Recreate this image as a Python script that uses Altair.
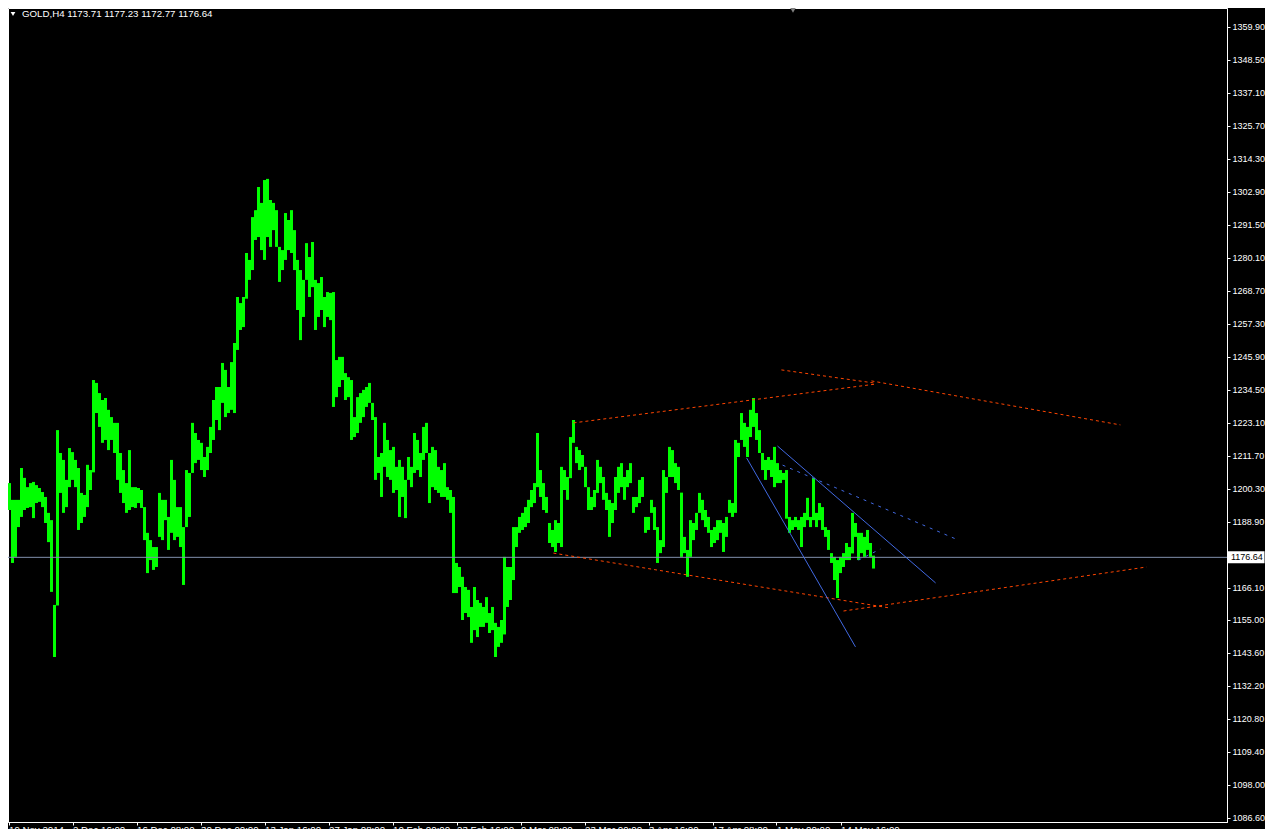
import json
import pandas as pd
import altair as alt

# ---------------- data ----------------
symbol_text = "GOLD,H4  1173.71 1177.23 1172.77 1176.64"
last_price = 1176.64
last_price_label = "1176.64"

# bar highs / lows (one entry per group of H4 bars, left to right)
highs = [
    1202.3, 1196.5, 1196.5, 1196.5, 1207.5, 1204.1, 1200.9, 1202.3, 1202.7, 1201.6,
    1200.6, 1199.2, 1197.5, 1192.0, 1189.5, 1160.2, 1220.6, 1212.7, 1210.3, 1203.4,
    1214.4, 1213.0, 1210.3, 1207.5, 1198.9, 1198.2, 1208.6, 1206.8, 1237.9, 1236.9,
    1233.4, 1231.0, 1231.7, 1227.6, 1225.1, 1223.1, 1223.1, 1212.7, 1206.8, 1202.3,
    1213.7, 1200.9, 1200.9, 1200.6, 1199.9, 1194.0, 1185.1, 1182.6, 1180.2, 1180.2,
    1198.9, 1196.5, 1196.5, 1190.6, 1210.3, 1203.4, 1194.0, 1194.0, 1187.1, 1206.8,
    1205.8, 1223.1, 1219.6, 1217.2, 1216.2, 1211.3, 1214.8, 1221.7, 1231.0, 1235.5,
    1235.5, 1243.8, 1241.4, 1235.5, 1244.1, 1250.7, 1266.6, 1264.5, 1266.6, 1281.8,
    1279.4, 1294.2, 1296.6, 1304.6, 1299.1, 1307.0, 1307.4, 1300.1, 1299.1, 1296.6,
    1283.9, 1282.8, 1295.6, 1293.2, 1296.6, 1289.7, 1279.4, 1275.9, 1272.5, 1285.2,
    1280.4, 1285.6, 1272.5, 1271.4, 1273.5, 1266.6, 1268.3, 1268.0, 1268.3, 1244.8,
    1245.9, 1245.9, 1240.3, 1238.9, 1237.9, 1225.1, 1232.0, 1233.4, 1234.5, 1235.5,
    1236.9, 1230.0, 1225.1, 1211.3, 1212.7, 1223.1, 1217.2, 1213.7, 1214.8, 1207.9,
    1210.3, 1207.9, 1203.4, 1211.3, 1207.9, 1219.6, 1217.2, 1212.7, 1221.7, 1223.1,
    1212.7, 1214.8, 1213.7, 1207.9, 1206.8, 1209.2, 1200.9, 1199.9, 1197.5, 1174.7,
    1173.3, 1169.9, 1166.4, 1165.4, 1159.5, 1166.4, 1161.9, 1160.9, 1159.5, 1162.9,
    1157.4, 1159.5, 1154.0, 1152.6, 1155.0, 1176.8, 1173.3, 1173.3, 1187.1, 1187.1,
    1190.6, 1192.0, 1194.0, 1196.5, 1199.9, 1202.3, 1219.6, 1206.8, 1202.3, 1197.5,
    1188.5, 1186.1, 1189.5, 1188.5, 1207.9, 1206.8, 1204.4, 1218.2, 1224.1, 1214.8,
    1213.7, 1212.0, 1207.9, 1200.9, 1197.5, 1199.9, 1210.3, 1207.9, 1204.4, 1198.9,
    1196.5, 1195.4, 1204.4, 1207.9, 1209.2, 1204.4, 1206.8, 1209.2, 1197.5, 1197.5,
    1203.4, 1204.4, 1190.6, 1190.6, 1196.5, 1194.0, 1187.1, 1182.6, 1206.8, 1204.4,
    1214.8, 1213.7, 1209.2, 1207.9, 1199.0, 1183.7, 1179.2, 1189.5, 1188.5, 1192.0,
    1198.9, 1196.5, 1193.0, 1190.6, 1186.1, 1187.1, 1189.5, 1189.5, 1188.5, 1190.6,
    1196.5, 1195.4, 1217.2, 1216.2, 1226.5, 1223.1, 1221.7, 1227.6, 1231.7, 1226.5,
    1220.6, 1212.7, 1210.3, 1211.3, 1210.3, 1214.8, 1209.2, 1206.8, 1205.8, 1206.8,
    1190.6, 1189.5, 1190.6, 1189.5, 1190.6, 1192.0, 1197.2, 1190.6, 1204.1, 1192.0,
    1195.4, 1194.0, 1187.1, 1186.1, 1178.1, 1176.8, 1175.7, 1176.8, 1178.1, 1181.6,
    1180.2, 1192.0, 1188.5, 1185.1, 1185.1, 1183.7, 1186.1, 1181.6, 1177.23,
]
lows = [
    1193.0, 1174.7, 1176.8, 1187.1, 1190.6, 1193.0, 1193.7, 1194.0, 1190.2, 1195.4,
    1195.8, 1194.0, 1188.5, 1181.9, 1164.7, 1142.2, 1160.0, 1198.9, 1192.0, 1194.0,
    1200.9, 1203.4, 1200.9, 1186.1, 1188.5, 1190.6, 1194.0, 1199.9, 1206.0, 1226.5,
    1221.7, 1216.2, 1217.2, 1213.7, 1217.2, 1212.7, 1203.4, 1198.9, 1195.4, 1192.0,
    1193.0, 1194.0, 1193.7, 1195.4, 1193.7, 1182.6, 1171.2, 1175.7, 1172.3, 1173.3,
    1183.7, 1182.6, 1189.5, 1179.2, 1185.1, 1182.6, 1183.7, 1180.2, 1167.1, 1187.1,
    1190.6, 1205.8, 1209.2, 1210.3, 1206.8, 1204.4, 1206.8, 1212.7, 1217.2, 1224.1,
    1220.6, 1230.0, 1225.1, 1226.5, 1227.6, 1226.5, 1248.3, 1255.2, 1256.2, 1266.0,
    1272.5, 1275.9, 1286.3, 1287.3, 1282.8, 1279.4, 1287.3, 1283.9, 1289.7, 1283.9,
    1271.8, 1275.9, 1279.4, 1282.8, 1281.8, 1275.9, 1262.1, 1251.7, 1259.7, 1272.5,
    1266.6, 1270.0, 1255.2, 1259.7, 1262.1, 1256.2, 1259.7, 1258.6, 1228.6, 1232.0,
    1235.5, 1237.9, 1231.0, 1232.0, 1217.2, 1218.2, 1219.6, 1223.1, 1225.1, 1228.6,
    1230.0, 1224.1, 1203.4, 1205.8, 1197.5, 1207.9, 1204.4, 1203.4, 1198.9, 1199.9,
    1190.6, 1197.5, 1190.2, 1203.4, 1200.9, 1205.8, 1206.8, 1204.4, 1210.3, 1212.7,
    1195.4, 1200.9, 1199.9, 1198.9, 1197.5, 1197.5, 1196.5, 1192.0, 1164.3, 1164.3,
    1166.4, 1155.0, 1157.4, 1156.0, 1147.1, 1151.5, 1149.1, 1152.6, 1152.6, 1154.0,
    1150.5, 1151.5, 1142.2, 1145.7, 1147.1, 1150.0, 1159.5, 1161.9, 1168.8, 1180.2,
    1185.1, 1186.1, 1187.1, 1188.5, 1194.0, 1195.4, 1200.9, 1197.5, 1193.0, 1192.0,
    1181.6, 1180.2, 1178.5, 1181.6, 1180.2, 1199.9, 1196.5, 1204.0, 1216.2, 1209.2,
    1206.8, 1207.9, 1200.9, 1193.0, 1193.0, 1194.0, 1198.9, 1202.3, 1196.5, 1193.0,
    1183.7, 1188.5, 1193.0, 1198.9, 1200.9, 1196.5, 1200.9, 1202.3, 1192.0, 1194.0,
    1195.4, 1197.5, 1185.1, 1186.1, 1192.0, 1186.1, 1174.7, 1178.1, 1180.2, 1198.9,
    1204.4, 1204.4, 1202.3, 1199.9, 1176.8, 1178.1, 1169.9, 1176.8, 1182.6, 1186.1,
    1192.0, 1189.5, 1187.1, 1185.1, 1180.2, 1181.6, 1182.6, 1185.1, 1178.5, 1183.7,
    1192.0, 1190.6, 1192.0, 1211.3, 1217.2, 1214.8, 1211.3, 1218.2, 1221.7, 1217.2,
    1212.7, 1206.8, 1203.4, 1206.8, 1204.4, 1200.9, 1202.3, 1202.3, 1203.4, 1190.0,
    1185.1, 1186.1, 1187.1, 1186.1, 1180.2, 1187.1, 1189.5, 1187.1, 1189.5, 1187.1,
    1189.5, 1186.1, 1183.7, 1179.2, 1174.7, 1168.8, 1162.6, 1171.2, 1173.3, 1175.7,
    1175.7, 1178.0, 1183.7, 1175.7, 1178.1, 1176.8, 1179.2, 1176.8, 1172.77,
]

# trend lines: (start bar, start price) -> (end bar, end price)
line_names = ["r1", "r2", "r3", "r4", "r5", "b1", "b2", "b3", "b4"]
line_kind = ["red", "red", "red", "red", "red", "blue", "blue", "bluedash", "bluedash"]
line_x1 = [188.0, 257.3, 287.3, 181.3, 278.0, 245.7, 256.0, 257.7, 283.0]
line_p1 = [1223.1, 1241.4, 1237.6, 1178.1, 1158.1, 1211.0, 1215.1, 1208.5, 1175.7]
line_x2 = [288.7, 288.0, 370.3, 293.7, 379.0, 282.0, 308.7, 316.3, 290.3]
line_p2 = [1236.5, 1236.9, 1222.4, 1159.1, 1173.3, 1145.7, 1167.8, 1182.6, 1179.5]

# price axis ticks
price_ticks = [1359.90, 1348.50, 1337.10, 1325.70, 1314.30, 1302.90, 1291.50,
               1280.10, 1268.70, 1257.30, 1245.90, 1234.50, 1223.10, 1211.70,
               1200.30, 1188.90, 1166.10, 1155.00, 1143.60, 1132.20, 1120.80,
               1109.40, 1098.00, 1086.60]

# time axis labels (one every 64 H4 bars)
time_labels = ["19 Nov 2014", "2 Dec 16:00", "16 Dec 08:00", "30 Dec 00:00",
               "13 Jan 16:00", "27 Jan 08:00", "10 Feb 00:00", "23 Feb 16:00",
               "9 Mar 08:00", "23 Mar 00:00", "3 Apr 16:00", "17 Apr 08:00",
               "1 May 00:00", "14 May 16:00"]

# ---------------- chart ----------------
W, H = 1219, 814
RIGHT = 38
X_DOM = [-0.5, (W - 1.5) / 3]
Y_DOM = [1085.2, 1366.44]
FONT = "Liberation Sans"
FS = 9
FS_HDR = 9.7

bars = pd.DataFrame({"bar": list(range(len(highs))), "high": highs, "low": lows})
lines = pd.DataFrame({"name": line_names, "kind": line_kind,
                      "x1": line_x1, "p1": line_p1, "x2": line_x2, "p2": line_p2})

xs = alt.Scale(domain=X_DOM, nice=False, zero=False)
ys = alt.Scale(domain=Y_DOM, nice=False, zero=False)

tick_vals = [(64 * k - 1) / 3 for k in range(len(time_labels))]
label_expr = json.dumps(time_labels) + "[round((datum.value*3+1)/64)]"

xaxis = alt.Axis(values=tick_vals, labelExpr=label_expr, title=None,
                 grid=False, tickSize=3, labelAlign="left",
                 labelBaseline="top", labelPadding=-1, labelFlush=False,
                 labelOverlap=False, labelFontSize=FS_HDR)
yaxis = alt.Axis(orient="right", values=price_ticks, format=".2f",
                 title=None, grid=False, tickSize=3, labelPadding=2,
                 labelOverlap=False, labelFlush=False)

bar_layer = alt.Chart(bars).mark_rule(color="#00FF00", strokeWidth=3).encode(
    x=alt.X("bar:Q", scale=xs, axis=xaxis),
    y=alt.Y("low:Q", scale=ys, axis=yaxis),
    y2="high:Q",
)

price_line = alt.Chart(pd.DataFrame({"p": [last_price]})).mark_rule(
    color="#8090AC", strokeWidth=1).encode(y=alt.Y("p:Q", scale=ys, axis=yaxis))


def trend(kind, dash):
    kw = dict(color="#FF4500" if kind == "red" else "#4169E1", strokeWidth=1)
    if dash:
        kw["strokeDash"] = dash
    return alt.Chart(lines).transform_filter(alt.datum.kind == kind).mark_rule(**kw).encode(
        x=alt.X("x1:Q", scale=xs, axis=xaxis), y=alt.Y("p1:Q", scale=ys, axis=yaxis),
        x2="x2:Q", y2="p2:Q", detail="name:N")


red_layer = trend("red", [3, 3])
blue_layer = trend("blue", None)
bluedash_layer = trend("bluedash", [3, 5])

lp = pd.DataFrame({"p": [last_price], "t": [last_price_label]})
price_box = alt.Chart(lp).mark_tick(color="white", thickness=12, size=37,
                                    orient="horizontal", opacity=1).encode(
    x=alt.value(W + 19), y=alt.Y("p:Q", scale=ys, axis=yaxis))
price_text = alt.Chart(lp).mark_text(color="black", font=FONT, fontSize=FS,
                                     align="left", baseline="middle").encode(
    x=alt.value(W + 4), y=alt.Y("p:Q", scale=ys, axis=yaxis), text="t:N")

hdr = pd.DataFrame({"t": [symbol_text]})
header_text = alt.Chart(hdr).mark_text(color="white", font=FONT, fontSize=FS_HDR,
                                       align="left", baseline="middle").encode(
    x=alt.value(14), y=alt.value(6), text="t:N")
header_tri = alt.Chart(hdr).mark_point(shape="triangle-down", filled=True,
                                       color="white", size=22, opacity=1).encode(
    x=alt.value(5), y=alt.value(6))
shift_mark = alt.Chart(hdr).mark_point(shape="triangle-down", filled=True,
                                       color="#808080", size=40, opacity=1).encode(
    x=alt.value(785), y=alt.value(2))

chart = alt.layer(
    bar_layer, price_line, red_layer, blue_layer, bluedash_layer,
    price_box, price_text, header_tri, header_text, shift_mark,
).properties(
    width=W, height=H,
    autosize=alt.AutoSizeParams(type="none"),
    padding={"left": 0, "top": 0, "right": RIGHT, "bottom": 12},
).configure(
    background="#000000",
).configure_view(
    stroke="white", strokeWidth=1,
).configure_axis(
    domainColor="white", tickColor="white", labelColor="white",
    labelFont=FONT, labelFontSize=FS, domainWidth=1, tickWidth=1,
)

chart.save("out.html", embed_options={"renderer": "svg", "actions": False})
